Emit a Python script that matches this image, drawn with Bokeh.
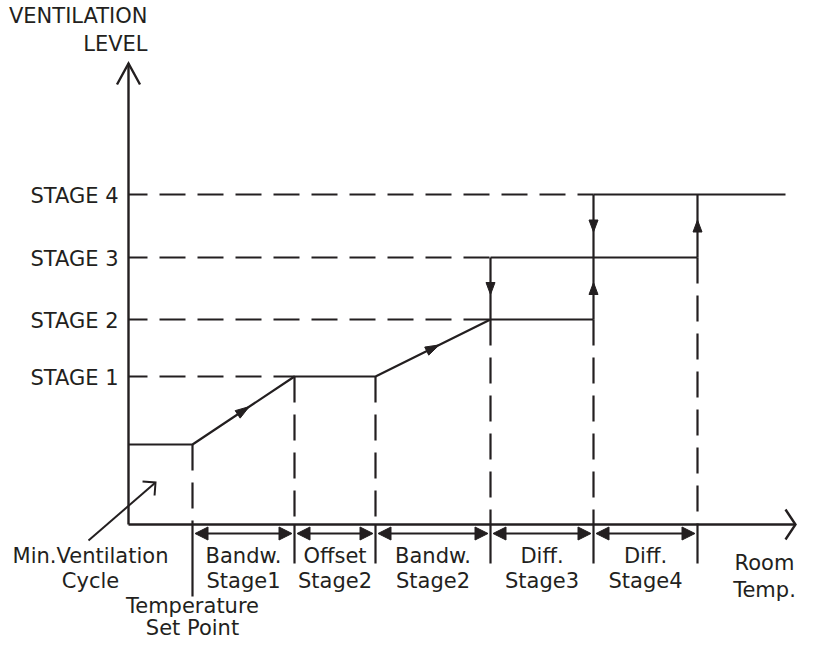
import numpy as np
from bokeh.plotting import figure
from bokeh.models import Range1d, Arrow, NormalHead
from bokeh.core.properties import value
from bokeh.embed import file_html
from bokeh.resources import INLINE

# ---- values (diagram units; 0 = origin of the axes)
stage_labels = ["STAGE 1", "STAGE 2", "STAGE 3", "STAGE 4"]
stage_levels = [148, 205, 267, 330]          # ventilation level of each stage
min_ventilation = 80                          # minimum ventilation cycle level
set_point = 64                                # temperature set point
band_top = ["Bandw.", "Offset", "Bandw.", "Diff.", "Diff."]
band_bottom = ["Stage1", "Stage2", "Stage2", "Stage3", "Stage4"]
band_widths = [102, 81, 115, 103, 104]        # widths of the bands on the temperature axis
x_axis_end = 667
y_axis_end = 461
stage4_end = 657

# ---- styling
C = "#231f20"
FONT = value("DejaVu Sans")
FSIZE = value("21px")
LW = 2.2
TEXT_DY = 8   # compensation for where the renderer puts the alphabetic baseline

b = list(set_point + np.cumsum([0] + band_widths))
S1, S2, S3, S4 = stage_levels
mv = min_ventilation

p = figure(width=798, height=641, x_range=Range1d(-128, 670), y_range=Range1d(-117, 524),
           x_axis_type=None, y_axis_type=None, toolbar_location=None,
           output_backend="svg", min_border=0)
p.grid.visible = False
p.outline_line_color = None
p.background_fill_color = "white"

# axes
p.segment(x0=[0, 0], y0=[0, 0], x1=[x_axis_end, 0], y1=[0, y_axis_end], line_color=C, line_width=2.4)
# open arrow heads of the axes
yh_len, yh_w = 21, 11.5
xh_len, xh_w = 10, 15
p.multi_line(xs=[[-yh_w, 0, yh_w], [x_axis_end - xh_len, x_axis_end, x_axis_end - xh_len]],
             ys=[[y_axis_end - yh_len, y_axis_end, y_axis_end - yh_len], [xh_w, 0, -xh_w]],
             line_color=C, line_width=2.4, line_join="miter")

# dashed horizontal stage guides
p.segment(x0=[0, 0, 0, 0], y0=[S1, S2, S3, S4], x1=[b[1], b[3], b[3], b[4]], y1=[S1, S2, S3, S4],
          line_color=C, line_width=LW, line_dash="26 12", line_dash_offset=7)
# dashed verticals down to the temperature axis
p.segment(x0=b, y0=[mv, S1, S1, S2, S2, S3], x1=b, y1=[0] * 6,
          line_color=C, line_width=LW, line_dash="26 12")
# solid ticks below the axis
tick_depth = [72, 39, 39, 39, 39, 39]
p.segment(x0=b, y0=[0] * 6, x1=b, y1=[-d for d in tick_depth], line_color=C, line_width=LW)

# ventilation curve
p.line(x=[0, b[0], b[1], b[2], b[3], b[4]], y=[mv, mv, S1, S1, S2, S2], line_color=C, line_width=LW)
p.segment(x0=[b[3], b[4], b[3], b[4], b[5]], y0=[S3, S4, S2, S2, S3],
          x1=[b[5], stage4_end, b[3], b[4], b[5]], y1=[S3, S4, S3, S4, S4],
          line_color=C, line_width=LW)

# filled arrow heads on the curve
def tri(cx, cy, dx, dy, L, hw):
    n = np.hypot(dx, dy)
    dx, dy = dx / n, dy / n
    tx, ty = cx + dx * L / 2, cy + dy * L / 2
    bx, by = cx - dx * L / 2, cy - dy * L / 2
    return [tx, bx - dy * hw, bx + dy * hw], [ty, by + dx * hw, by - dx * hw]

heads = [
    tri((b[0] + b[1]) / 2, (mv + S1) / 2, b[1] - b[0], S1 - mv, 14, 4.5),
    tri((b[2] + b[3]) / 2, (S1 + S2) / 2, b[3] - b[2], S2 - S1, 14, 4.5),
    tri(b[3], (S2 + S3) / 2, 0, -1, 12, 4.5),
    tri(b[4], (S3 + S4) / 2, 0, -1, 12, 4.5),
    tri(b[4], (S2 + S3) / 2, 0, 1, 12, 4.5),
    tri(b[5], (S3 + S4) / 2, 0, 1, 12, 4.5),
]
p.patches(xs=[h[0] for h in heads], ys=[h[1] for h in heads], fill_color=C, line_color=C, line_width=1)

# dimension arrows between the set points
dim_y = -9
for i in range(len(band_widths)):
    p.add_layout(Arrow(x_start=b[i] + 2.5, y_start=dim_y, x_end=b[i + 1] - 2.5, y_end=dim_y,
                       line_color=C, line_width=LW,
                       start=NormalHead(size=13, fill_color=C, line_color=C, line_width=1),
                       end=NormalHead(size=13, fill_color=C, line_color=C, line_width=1)))

# pointer for the minimum ventilation cycle
ptr_start = (-40, -16)
ptr_tip = (27, 42)
ang = np.arctan2(ptr_tip[1] - ptr_start[1], ptr_tip[0] - ptr_start[0])
arm = 13
a1 = (ptr_tip[0] - arm * np.cos(ang - np.pi / 4), ptr_tip[1] - arm * np.sin(ang - np.pi / 4))
a2 = (ptr_tip[0] - arm * np.cos(ang + np.pi / 4), ptr_tip[1] - arm * np.sin(ang + np.pi / 4))
p.multi_line(xs=[[ptr_start[0], ptr_tip[0]], [a1[0], ptr_tip[0], a2[0]]],
             ys=[[ptr_start[1], ptr_tip[1]], [a1[1], ptr_tip[1], a2[1]]],
             line_color=C, line_width=2.0, line_join="miter")

# ---- texts
def texts(x, y, t, align):
    p.text(x=x, y=[v + TEXT_DY for v in y], text=t, text_font=FONT, text_font_size=FSIZE,
           text_color=C, text_align=align, text_baseline="alphabetic")

texts([-10] * 4, [v - 9 for v in stage_levels], stage_labels, "right")
texts([19, 19], [501, 473], ["VENTILATION", "LEVEL"], "right")
mids = [(b[i] + b[i + 1]) / 2 for i in range(len(band_widths))]
texts(mids, [-39] * 5, band_top, "center")
texts(mids, [-64] * 5, band_bottom, "center")
texts([-38, -38], [-39, -64], ["Min.Ventilation", "Cycle"], "center")
texts([b[0], b[0]], [-89, -111], ["Temperature", "Set Point"], "center")
texts([636, 636], [-46, -73], ["Room", "Temp."], "center")

open("out.html", "w").write(file_html(p, INLINE))
